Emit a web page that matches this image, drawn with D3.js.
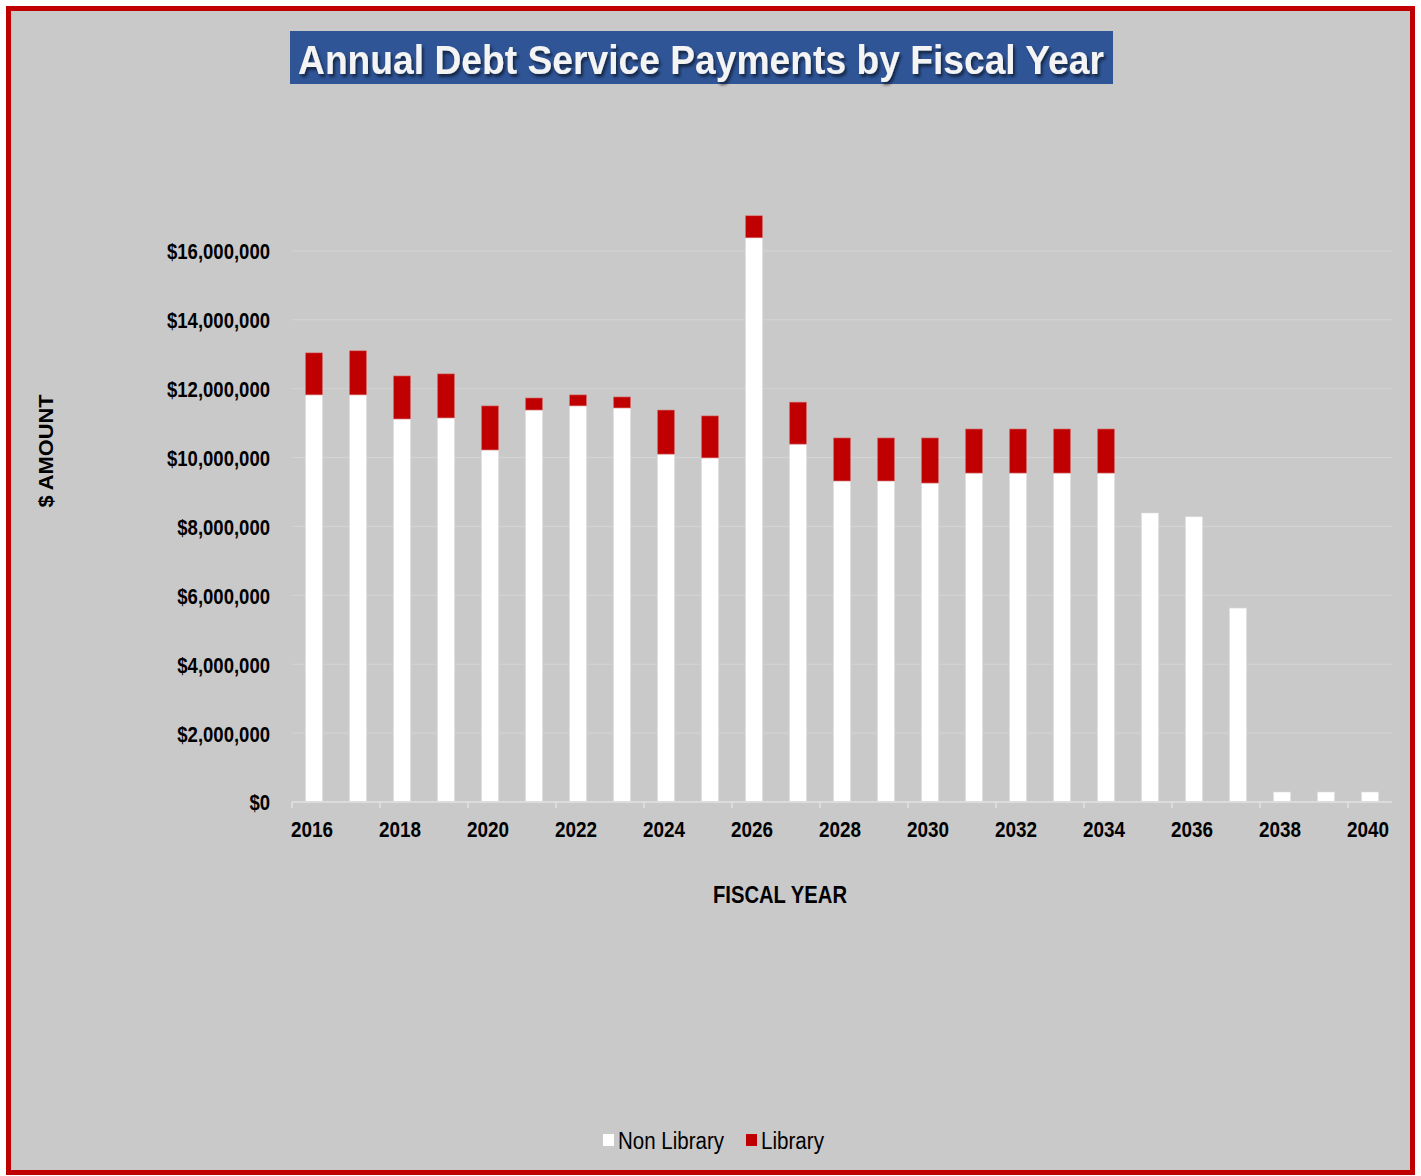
<!DOCTYPE html>
<html>
<head>
<meta charset="utf-8">
<script src="https://cdn.jsdelivr.net/npm/d3@7/dist/d3.min.js"></script>
<style>
  html, body { margin: 0; padding: 0; background: #fff; }
  svg { display: block; }
</style>
</head>
<body>
<div id="chart"></div>
<script>
// Fiscal years and payment amounts (dollars)
const years = d3.range(2016, 2041).map(String);
const nonLibrary = [
  11820000, 11820000, 11120000, 11150000, 10220000, 11380000, 11500000, 11440000,
  10100000, 9990000, 16380000, 10390000, 9320000, 9320000, 9260000, 9550000,
  9550000, 9550000, 9550000, 8390000, 8280000, 5630000, 290000, 290000, 290000
];
const library = [
  1220000, 1280000, 1250000, 1280000, 1280000, 350000, 320000, 320000,
  1280000, 1220000, 640000, 1220000, 1250000, 1250000, 1310000, 1280000,
  1280000, 1280000, 1280000, 0, 0, 0, 0, 0, 0
];
const yTicks = [0, 2000000, 4000000, 6000000, 8000000, 10000000, 12000000, 14000000, 16000000];
const seriesNames = ['Non Library', 'Library'];
const seriesColors = ['#ffffff', '#c00000'];

const width = 1421, height = 1176;
const margin = { top: 182, right: 29, bottom: 374, left: 292 };
const innerWidth = width - margin.left - margin.right;
const innerHeight = height - margin.top - margin.bottom;
const font = '"Liberation Sans", Arial, sans-serif';

// squeeze a group of texts so the widest one gets the given width (narrow-font look)
function fitTo(sel, target) {
  let maxW = 0;
  sel.each(function () { maxW = Math.max(maxW, this.getComputedTextLength()); });
  const k = target / maxW;
  sel.each(function () {
    d3.select(this)
      .attr('textLength', this.getComputedTextLength() * k)
      .attr('lengthAdjust', 'spacingAndGlyphs');
  });
}

const svg = d3.select('#chart').append('svg')
  .attr('width', width)
  .attr('height', height);

// Background and red frame
svg.append('rect')
  .attr('x', 8.5).attr('y', 8.5)
  .attr('width', 1404).attr('height', 1164)
  .attr('fill', '#c9c9c9')
  .attr('stroke', '#c00000')
  .attr('stroke-width', 5);

// Title
const defs = svg.append('defs');
const shadow = defs.append('filter').attr('id', 'shadow')
  .attr('x', '-5%').attr('y', '-20%').attr('width', '110%').attr('height', '150%');
shadow.append('feDropShadow')
  .attr('dx', 2).attr('dy', 3).attr('stdDeviation', 1.5)
  .attr('flood-color', '#000').attr('flood-opacity', 0.55);

svg.append('rect')
  .attr('x', 290).attr('y', 31)
  .attr('width', 823).attr('height', 53)
  .attr('fill', '#2f5597');

svg.append('text')
  .attr('x', 701).attr('y', 74)
  .attr('text-anchor', 'middle')
  .attr('textLength', 806)
  .attr('lengthAdjust', 'spacingAndGlyphs')
  .attr('filter', 'url(#shadow)')
  .style('font-family', font)
  .style('font-weight', 'bold')
  .style('font-size', '40px')
  .style('fill', '#f4f4f4')
  .text('Annual Debt Service Payments by Fiscal Year');

const g = svg.append('g')
  .attr('transform', `translate(${margin.left},${margin.top})`);

const x = d3.scaleBand()
  .domain(years)
  .range([0, innerWidth])
  .paddingInner(0.61)
  .paddingOuter(0.305);

const y = d3.scaleLinear()
  .domain([0, 18000000])
  .range([innerHeight, 0]);

// Gridlines
g.append('g')
  .selectAll('line')
  .data(yTicks.slice(1))
  .enter().append('line')
  .attr('x1', 0).attr('x2', innerWidth)
  .attr('y1', d => y(d)).attr('y2', d => y(d))
  .attr('stroke', '#d4d4d4')
  .attr('stroke-width', 1);

// Stacked bars
const rows = years.map((yr, i) => ({ year: yr, 'Non Library': nonLibrary[i], 'Library': library[i] }));
const stack = d3.stack().keys(seriesNames)(rows);

g.selectAll('.series')
  .data(stack)
  .enter().append('g')
  .attr('fill', (d, i) => seriesColors[i])
  .attr('stroke', (d, i) => i === 0 ? '#dddddd' : '#d98080')
  .selectAll('rect')
  .data(d => d.filter(p => p[1] - p[0] > 0))
  .enter().append('rect')
  .attr('x', d => x(d.data.year))
  .attr('y', d => y(d[1]))
  .attr('width', x.bandwidth())
  .attr('height', d => y(d[0]) - y(d[1]))
  .attr('stroke-width', 0.6);

// Y axis labels
const yAxis = g.append('g')
  .call(d3.axisLeft(y).tickValues(yTicks).tickSize(0).tickPadding(22)
    .tickFormat(d => '$' + d3.format(',')(d)));
yAxis.select('.domain').remove();
yAxis.selectAll('text')
  .attr('dy', '0.36em')
  .style('font-family', font)
  .style('font-weight', 'bold')
  .style('font-size', '22px')
  .style('fill', '#000')
  .call(fitTo, 103);

// X axis
const step = x.step();
const gap = (step - x.bandwidth()) / 2;
const xAxis = g.append('g')
  .attr('transform', `translate(0,${innerHeight})`);
xAxis.append('line')
  .attr('x1', 0).attr('x2', innerWidth)
  .attr('stroke', '#dcdcdc').attr('stroke-width', 2);
xAxis.selectAll('.tick-mark')
  .data(years.filter((d, i) => i % 2 === 0))
  .enter().append('line')
  .attr('x1', d => x(d) - gap)
  .attr('x2', d => x(d) - gap)
  .attr('y1', 0).attr('y2', 6)
  .attr('stroke', '#dcdcdc').attr('stroke-width', 2);
xAxis.selectAll('.tick-label')
  .data(years.filter((d, i) => i % 2 === 0))
  .enter().append('text')
  .attr('x', d => x(d) + x.bandwidth() / 2 - 2)
  .attr('y', 35)
  .attr('text-anchor', 'middle')
  .style('font-family', font)
  .style('font-weight', 'bold')
  .style('font-size', '22px')
  .style('fill', '#000')
  .text(d => d)
  .call(fitTo, 42);

// Axis titles
svg.append('text')
  .attr('x', 780).attr('y', 903)
  .attr('text-anchor', 'middle')
  .style('font-family', font)
  .style('font-weight', 'bold')
  .style('font-size', '23px')
  .style('fill', '#000')
  .text('FISCAL YEAR')
  .call(fitTo, 134);

svg.append('text')
  .attr('transform', 'translate(53,451) rotate(-90)')
  .attr('text-anchor', 'middle')
  .style('font-family', font)
  .style('font-weight', 'bold')
  .style('font-size', '20px')
  .style('fill', '#000')
  .text('$ AMOUNT')
  .call(fitTo, 113);

// Legend
const legend = svg.append('g').attr('transform', 'translate(603,1134)');
const legendX = [0, 143];
const legendW = [106, 63];
seriesNames.forEach((name, i) => {
  const item = legend.append('g').attr('transform', `translate(${legendX[i]},0)`);
  item.append('rect')
    .attr('width', 11).attr('height', 12)
    .attr('fill', seriesColors[i]);
  item.append('text')
    .attr('x', 15).attr('y', 15)
    .style('font-family', font)
    .style('font-size', '23px')
    .style('fill', '#000')
    .text(name)
    .call(fitTo, legendW[i]);
});
</script>
</body>
</html>
